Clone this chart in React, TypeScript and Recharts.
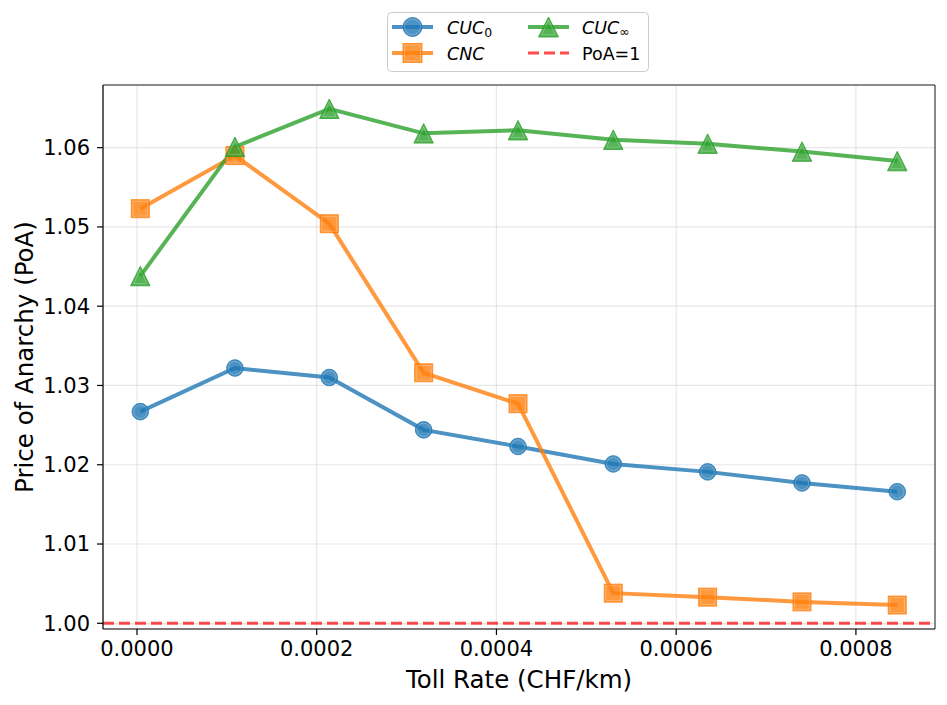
import React from 'react';
import { LineChart, Line, XAxis, YAxis, CartesianGrid, ReferenceLine, Label } from 'recharts';

const tollRates = [0.0000037, 0.000109, 0.000214, 0.000319, 0.000424, 0.00053, 0.000635, 0.00074, 0.000846];
const cuc0 = [1.0267, 1.0322, 1.031, 1.0244, 1.0223, 1.0201, 1.0191, 1.0177, 1.0166];
const cnc = [1.0523, 1.059, 1.0504, 1.0316, 1.0277, 1.0038, 1.0033, 1.0027, 1.0023];
const cucInf = [1.0438, 1.0601, 1.0649, 1.0618, 1.0622, 1.061, 1.0605, 1.0595, 1.0583];
const xTicks = [0, 0.0002, 0.0004, 0.0006, 0.0008];
const yTicks = [1.0, 1.01, 1.02, 1.03, 1.04, 1.05, 1.06];
const poaValue = 1;
const xDomain = [-0.0000378, 0.000888];
const yDomain = [0.99928, 1.0679];

const BLUE = '#1f77b4';
const ORANGE = '#ff7f0e';
const GREEN = '#2ca02c';
const FONT = '"DejaVu Sans", sans-serif';

const data = tollRates.map((x, i) => ({ x, cuc0: cuc0[i], cnc: cnc[i], cucInf: cucInf[i] }));

const CircleMark = ({ cx, cy, color, r = 8.3 }: any) => (
  <g>
    <circle cx={cx} cy={cy} r={r} fill={color} fillOpacity={0.8} stroke={color} strokeOpacity={0.8} strokeWidth={1} />
    <circle cx={cx} cy={cy} r={r - 1.6} fill="none" stroke="#ffffff" strokeOpacity={0.3} strokeWidth={0.8} />
  </g>
);
const SquareMark = ({ cx, cy, color, s = 18 }: any) => (
  <g>
    <rect x={cx - s / 2} y={cy - s / 2} width={s} height={s} fill={color} fillOpacity={0.8} stroke={color} strokeOpacity={0.8} strokeWidth={1} />
    <rect x={cx - s / 2 + 1.6} y={cy - s / 2 + 1.6} width={s - 3.2} height={s - 3.2} fill="none" stroke="#ffffff" strokeOpacity={0.3} strokeWidth={0.8} />
  </g>
);
const TriMark = ({ cx, cy, color, s = 19.5 }: any) => {
  const h = s / 2;
  const pts = `${cx},${cy - h} ${cx - h},${cy + h} ${cx + h},${cy + h}`;
  const h2 = h - 2.2;
  const pts2 = `${cx},${cy - h2 + 1} ${cx - h2 + 1},${cy + h2} ${cx + h2 - 1},${cy + h2}`;
  return (
    <g>
      <polygon points={pts} fill={color} fillOpacity={0.8} stroke={color} strokeOpacity={0.8} strokeWidth={1} />
      <polygon points={pts2} fill="none" stroke="#ffffff" strokeOpacity={0.3} strokeWidth={0.8} />
    </g>
  );
};

const dotFn = (Comp: any, color: string) => (props: any) => (
  <Comp key={`d-${props.index}`} cx={props.cx} cy={props.cy} color={color} />
);

const Legend = () => (
  <div style={{ position: 'absolute', left: 387, top: 12 }}>
    <svg width={263} height={61} style={{ display: 'block', fontFamily: FONT }}>
      <rect x={0.5} y={0.5} width={261} height={59} rx={4} ry={4} fill="#ffffff" fillOpacity={0.8} stroke="#cccccc" strokeWidth={1} />
      <line x1={5} x2={46} y1={15} y2={15} stroke={BLUE} strokeOpacity={0.8} strokeWidth={4} />
      <CircleMark cx={25.5} cy={15} color={BLUE} r={9.5} />
      <text x={60} y={21.5} fontSize={17.5} fill="#000">
        <tspan fontStyle="italic">CUC</tspan>
        <tspan fontSize={12.5} dy={3.5}>0</tspan>
      </text>
      <line x1={5} x2={46} y1={41} y2={41} stroke={ORANGE} strokeOpacity={0.8} strokeWidth={4} />
      <SquareMark cx={25.5} cy={41} color={ORANGE} s={19} />
      <text x={60} y={47.5} fontSize={17.5} fill="#000" fontStyle="italic">CNC</text>
      <line x1={141} x2={182} y1={15} y2={15} stroke={GREEN} strokeOpacity={0.8} strokeWidth={4} />
      <TriMark cx={161.5} cy={15} color={GREEN} s={20} />
      <text x={195} y={21.5} fontSize={17.5} fill="#000">
        <tspan fontStyle="italic">CUC</tspan>
        <tspan fontSize={12.5} dy={2.5}>∞</tspan>
      </text>
      <line x1={141} x2={182} y1={41} y2={41} stroke="#ff0000" strokeOpacity={0.7} strokeWidth={3} strokeDasharray="11 5" />
      <text x={195} y={47.5} fontSize={17.5} fill="#000">PoA=1</text>
    </svg>
  </div>
);

export default function App() {
  const tickStyle = { fontSize: 21, fill: '#000', fontFamily: FONT };
  return (
    <div style={{ position: 'absolute', left: 0, top: 0, width: 947, height: 705, background: '#fff', fontFamily: FONT }}>
      <LineChart width={947} height={705} data={data} margin={{ top: 85, right: 12, bottom: 0, left: 0 }}>
        <CartesianGrid stroke="#b0b0b0" strokeOpacity={0.3} strokeWidth={1.2} />
        <XAxis
          dataKey="x"
          type="number"
          domain={xDomain}
          allowDataOverflow
          ticks={xTicks}
          tickFormatter={(v: number) => v.toFixed(4)}
          height={76}
          tickSize={6}
          tickMargin={6}
          tick={tickStyle}
          axisLine={{ stroke: '#000', strokeWidth: 1.2 }}
          tickLine={{ stroke: '#000', strokeWidth: 1.2 }}
        >
          <Label value="Toll Rate (CHF/km)" position="insideBottom" offset={17} style={{ fontSize: 24.5, fill: '#000', fontFamily: FONT }} />
        </XAxis>
        <YAxis
          type="number"
          domain={yDomain}
          allowDataOverflow
          ticks={yTicks}
          tickFormatter={(v: number) => v.toFixed(2)}
          width={103}
          tickSize={6}
          tickMargin={7}
          tick={tickStyle}
          axisLine={{ stroke: '#000', strokeWidth: 1.2 }}
          tickLine={{ stroke: '#000', strokeWidth: 1.2 }}
        >
          <Label value="Price of Anarchy (PoA)" angle={-90} position="insideLeft" offset={24} style={{ fontSize: 24.5, fill: '#000', fontFamily: FONT, textAnchor: 'middle' }} />
        </YAxis>
        <ReferenceLine y={yDomain[1]} stroke="#222" strokeWidth={1} ifOverflow="visible" />
        <ReferenceLine x={xDomain[1]} stroke="#222" strokeWidth={1} ifOverflow="visible" />
        <Line dataKey="cuc0" stroke={BLUE} strokeOpacity={0.8} strokeWidth={4} dot={dotFn(CircleMark, BLUE)} activeDot={false} isAnimationActive={false} />
        <Line dataKey="cnc" stroke={ORANGE} strokeOpacity={0.8} strokeWidth={4} dot={dotFn(SquareMark, ORANGE)} activeDot={false} isAnimationActive={false} />
        <Line dataKey="cucInf" stroke={GREEN} strokeOpacity={0.8} strokeWidth={4} dot={dotFn(TriMark, GREEN)} activeDot={false} isAnimationActive={false} />
        <ReferenceLine y={poaValue} stroke="#ff0000" strokeOpacity={0.7} strokeWidth={3} strokeDasharray="11 5" />
      </LineChart>
      <Legend />
    </div>
  );
}
